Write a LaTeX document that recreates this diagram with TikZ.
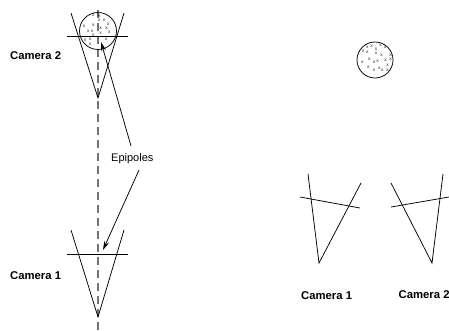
\documentclass[tikz,border=0pt]{standalone}
\usepackage{fontspec}
\setmainfont{Liberation Sans}
\usetikzlibrary{arrows.meta}
\tikzset{
  ln/.style={draw=black,line width=0.75pt},
  axis/.style={draw=black!55,line width=1.1pt,dash pattern=on 8pt off 5pt},
  ptr/.style={draw=black,line width=0.75pt,-{Stealth[length=9pt,width=5pt]}},
  cam/.style={font=\bfseries\fontsize{11.3}{13}\selectfont,inner sep=0pt},
  lbl/.style={font=\fontsize{11}{13}\selectfont,inner sep=0pt},
  xm/.style={font=\fontsize{4.8}{5}\selectfont,text=black!85,inner sep=0pt},
}
\begin{document}
\begin{tikzpicture}[x=1pt,y=-1pt]
\useasboundingbox (0,0) rectangle (449,331);
% coordinates
\coordinate (axT) at (98,10);
\coordinate (axB) at (98,331);
\coordinate (a2) at (98,98);
\coordinate (a2l) at (71,13);
\coordinate (a2r) at (124,13);
\coordinate (h2l) at (67,36);
\coordinate (h2r) at (128,36);
\coordinate (a1) at (98,317);
\coordinate (a1l) at (71,230);
\coordinate (a1r) at (124,230);
\coordinate (h1l) at (67,254);
\coordinate (h1r) at (128,254);
\coordinate (t1) at (101,42);
\coordinate (t2) at (103,250);
\coordinate (s1) at (131,146);
\coordinate (s2) at (139,170);
% left
\draw[axis] (axT) -- (axB);
\draw[ln] (a2l) -- (a2) -- (a2r);
\draw[ln] (h2l) -- (h2r);
\draw[ln] (a1l) -- (a1) -- (a1r);
\draw[ln] (h1l) -- (h1r);
\node[draw=black,line width=0.75pt,circle,minimum size=37pt,inner sep=0pt] (c2) at (98,31) {};
\draw[ptr] (s1) -- (t1);
\draw[ptr] (s2) -- (t2);
\foreach \i/\X/\Y in {1/100/47,2/115/45,3/132/60,4/118/62,5/100/77,6/145/73,7/72/80,8/85/93,9/97/95,10/122/84,11/122/100,12/140/85,13/148/98,14/100/106,15/75/120,16/90/118,17/90/133,18/138/117,19/118/50}
  \node[xm] (lx\i) at ({60+\X/3},{\Y/3}) {x};
% right
\node[draw=black,line width=0.75pt,circle,minimum size=36pt,inner sep=0pt] (c1) at (375,60) {};
\foreach \i/\X/\Y in {1/82/52,2/95/48,3/122/45,4/135/52,5/70/65,6/82/68,7/108/58,8/108/70,9/125/75,10/152/75,11/88/88,12/102/97,13/113/93,14/137/90,15/152/88,16/67/97,17/143/105,18/85/112,19/118/115,20/127/120,21/102/120,22/143/120}
  \node[xm] (rx\i) at ({340+\X/3},{30+\Y/3}) {x};
\coordinate (b1) at (319,263);
\coordinate (b1l) at (308,174);
\coordinate (b1r) at (361,183);
\coordinate (k1l) at (300,197);
\coordinate (k1r) at (360,208);
\coordinate (b2) at (432,263);
\coordinate (b2l) at (391,183);
\coordinate (b2r) at (443,174);
\coordinate (k2l) at (391,207);
\coordinate (k2r) at (449,197);
\draw[ln] (b1l) -- (b1) -- (b1r);
\draw[ln] (k1l) -- (k1r);
\draw[ln] (b2l) -- (b2) -- (b2r);
\draw[ln] (k2l) -- (k2r);
% labels
\node[cam,anchor=west] (n1) at (10,56) {Camera 2};
\node[cam,anchor=west] (n2) at (10,276) {Camera 1};
\node[cam,anchor=west] (n3) at (301,296) {Camera 1};
\node[cam,anchor=west] (n4) at (398.5,295) {Camera 2};
\node[lbl,anchor=west] (ep) at (111,159) {Epipoles};
\end{tikzpicture}
\end{document}
